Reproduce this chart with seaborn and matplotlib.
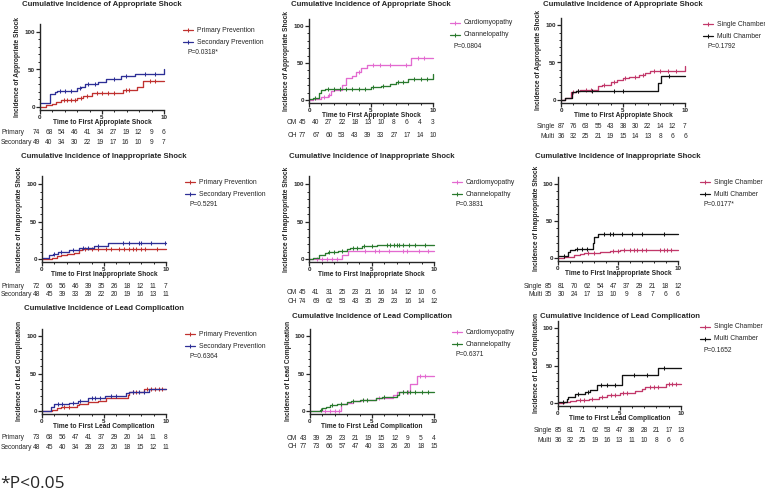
import numpy as np
import pandas as pd
import matplotlib
matplotlib.use('Agg')
import matplotlib.pyplot as plt
import seaborn as sns
from matplotlib.lines import Line2D

# ---------------- data ----------------
# appropriate shock
app_pp_t = [0, 0.5, 1.0, 1.3, 1.7, 3.0, 3.5, 4.2, 6.7, 7.8, 8.3, 10]
app_pp_y = [0, 2, 4, 6, 9, 12, 14, 18, 22, 27, 35, 35]
app_pp_cens = [1.9, 2.2, 2.5, 2.8, 3.3, 3.8, 4.6, 5.0, 5.5, 6.0, 6.9, 7.2, 8.9, 9.3]
app_sp_t = [0, 0.8, 1.2, 1.4, 3.0, 3.3, 3.6, 4.7, 5.3, 6.5, 7.7, 10]
app_sp_y = [5, 17, 20, 21, 25, 27, 30, 33, 37, 41, 44, 50]
app_sp_cens = [1.6, 2.0, 2.5, 3.2, 3.9, 4.4, 6.0, 6.9, 8.5, 9.3]

app_cm_t = [0, 0.3, 1.0, 1.5, 1.8, 2.0, 2.7, 3.0, 3.5, 3.8, 4.2, 4.7, 8.2, 10]
app_cm_y = [0, 2, 4, 7, 12, 14, 20, 30, 33, 38, 43, 47, 57, 57]
app_cm_cens = [1.2, 1.6, 4.0, 5.2, 5.7, 6.5, 7.8, 8.8, 9.3]
app_ch_t = [0, 0.3, 0.8, 1.0, 1.3, 5.0, 5.8, 6.5, 7.0, 8.0, 10]
app_ch_y = [2, 3, 10, 14, 15, 17, 19, 22, 25, 29, 35]
app_ch_cens = [0.5, 1.5, 2.0, 2.5, 3.0, 3.5, 4.0, 4.5, 5.2, 6.0, 7.2, 7.6, 8.5, 9.0, 9.5]

app_single_t = [0, 0.3, 0.8, 1.2, 1.5, 3.0, 3.3, 4.0, 4.5, 5.0, 5.5, 6.3, 6.8, 7.2, 10]
app_single_y = [0, 2, 10, 12, 13, 18, 20, 24, 27, 29, 30, 33, 36, 39, 45]
app_single_cens = [1.0, 1.4, 2.0, 2.4, 3.5, 4.3, 5.2, 6.0, 6.6, 7.5, 8.0, 8.6, 9.3]
app_multi_t = [0, 0.3, 0.9, 1.2, 7.8, 8.1, 10]
app_multi_y = [0, 3, 11, 12, 22, 32, 32]
app_multi_cens = [1.4, 2.5, 4.3, 5.0, 8.7]

# inappropriate shock
inapp_pp_t = [0, 0.8, 1.2, 1.5, 2.0, 2.6, 3.0, 3.2, 10]
inapp_pp_y = [0, 2, 4, 6, 7, 8, 12, 13, 13]
inapp_pp_cens = [3.5, 4.0, 4.5, 5.2, 5.6, 6.2, 6.6, 7.0, 7.3, 7.6, 8.0, 8.3, 9.3]
inapp_sp_t = [0, 0.6, 0.9, 1.3, 2.2, 3.0, 4.2, 5.3, 10]
inapp_sp_y = [2, 5, 7, 9, 12, 15, 17, 21, 21]
inapp_sp_cens = [1.0, 1.5, 2.5, 3.3, 3.7, 4.5, 6.5, 7.0, 7.8, 8.0, 8.8, 9.9]

inapp_cm_t = [0, 2.6, 3.1, 10]
inapp_cm_y = [0, 5, 11, 11]
inapp_cm_cens = [0.6, 1.0, 1.4, 1.8, 2.2, 4.5, 5.3, 5.6, 6.4, 7.5, 7.8, 8.8, 9.5]
inapp_ch_t = [0, 0.3, 0.8, 1.3, 1.5, 2.3, 3.0, 3.3, 4.2, 5.4, 10]
inapp_ch_y = [0, 2, 5, 8, 10, 11, 13, 15, 17, 19, 19]
inapp_ch_cens = [1.6, 2.0, 2.6, 3.5, 3.8, 4.4, 5.0, 6.2, 6.5, 6.8, 7.0, 7.2, 7.5, 8.0, 8.5, 9.3]

inapp_single_t = [0, 0.5, 1.0, 1.3, 1.8, 2.2, 3.5, 4.3, 5.2, 10]
inapp_single_y = [0, 1, 2, 4, 6, 7, 8, 9, 11, 11]
inapp_single_cens = [2.5, 3.0, 4.6, 5.0, 5.5, 6.0, 6.3, 6.6, 7.0, 7.3, 8.5, 8.8, 9.1, 9.4]
inapp_multi_t = [0, 0.8, 1.0, 1.4, 2.9, 3.0, 3.3, 10]
inapp_multi_y = [3, 8, 11, 12, 20, 28, 32, 32]
inapp_multi_cens = [0.5, 1.6, 2.0, 2.4, 3.8, 4.3, 4.6, 5.3, 6.2, 7.0, 8.8]

# lead complication
lead_pp_t = [0, 0.8, 1.2, 1.5, 2.8, 3.0, 3.7, 4.5, 5.2, 5.4, 6.9, 7.0, 8.2, 10]
lead_pp_y = [0, 2, 4, 6, 8, 10, 12, 14, 17, 18, 21, 25, 30, 30]
lead_pp_cens = [1.8, 2.2, 7.3, 7.6, 8.5, 8.8, 9.1, 9.4, 9.7]
lead_sp_t = [0, 0.7, 1.0, 2.2, 2.9, 3.3, 3.7, 5.1, 6.8, 7.0, 8.6, 10]
lead_sp_y = [0, 5, 9, 11, 13, 14, 17, 20, 24, 25, 30, 30]
lead_sp_cens = [1.3, 1.6, 2.5, 3.1, 4.0, 4.3, 4.7, 5.6, 6.0, 7.3, 7.8, 8.2]

lead_cm_t = [0, 2.5, 3.0, 3.5, 4.1, 5.3, 6.7, 7.0, 8.1, 8.6, 10]
lead_cm_y = [0, 9, 11, 13, 15, 18, 21, 25, 36, 47, 47]
lead_cm_cens = [1.2, 1.6, 2.0, 2.3, 5.6, 7.5, 7.9, 8.9, 9.3]
lead_ch_t = [0, 0.8, 1.0, 1.3, 1.6, 2.2, 3.0, 3.3, 4.0, 5.3, 5.8, 7.0, 7.2, 10]
lead_ch_y = [0, 2, 4, 6, 8, 10, 12, 13, 15, 18, 19, 22, 25, 25]
lead_ch_cens = [0.9, 1.8, 2.5, 3.5, 4.3, 4.6, 6.0, 7.5, 7.8, 8.1, 8.5, 9.0, 9.5]

lead_single_t = [0, 0.5, 1.0, 1.5, 2.5, 3.3, 4.0, 5.0, 6.3, 6.8, 7.1, 8.8, 10]
lead_single_y = [0, 1, 3, 4, 6, 8, 11, 13, 16, 19, 21, 25, 25]
lead_single_cens = [1.8, 2.1, 2.8, 3.6, 4.3, 4.6, 5.3, 5.6, 7.5, 7.8, 8.1, 9.0, 9.3, 9.6]
lead_multi_t = [0, 0.7, 0.8, 1.4, 2.2, 2.6, 3.2, 5.2, 8.1, 10]
lead_multi_y = [2, 5, 8, 12, 15, 17, 24, 37, 47, 47]
lead_multi_cens = [0.4, 1.6, 2.4, 3.5, 4.0, 4.6, 6.2, 7.2, 8.6]

# numbers at risk (years 0..10)
app_pp_risk = [74, 68, 54, 46, 41, 34, 27, 19, 12, 9, 6]
app_sp_risk = [49, 40, 34, 30, 22, 19, 17, 16, 10, 9, 7]
app_cm_risk = [45, 40, 27, 22, 18, 13, 10, 8, 6, 4, 3]
app_ch_risk = [77, 67, 60, 53, 43, 39, 33, 27, 17, 14, 10]
app_single_risk = [87, 76, 63, 55, 43, 38, 30, 22, 14, 12, 7]
app_multi_risk = [36, 32, 25, 21, 19, 15, 14, 13, 8, 6, 6]
inapp_pp_risk = [72, 66, 56, 46, 39, 35, 26, 18, 12, 11, 7]
inapp_sp_risk = [48, 45, 39, 33, 28, 22, 20, 19, 16, 13, 11]
inapp_cm_risk = [45, 41, 31, 25, 23, 21, 16, 14, 12, 10, 6]
inapp_ch_risk = [74, 69, 62, 53, 43, 35, 29, 23, 16, 14, 12]
inapp_single_risk = [85, 81, 70, 62, 54, 47, 37, 29, 21, 18, 12]
inapp_multi_risk = [35, 30, 24, 17, 13, 10, 9, 8, 7, 6, 6]
lead_pp_risk = [73, 68, 56, 47, 41, 37, 29, 20, 14, 11, 8]
lead_sp_risk = [48, 45, 40, 34, 28, 23, 20, 18, 15, 12, 11]
lead_cm_risk = [43, 39, 29, 23, 21, 19, 15, 12, 9, 5, 4]
lead_ch_risk = [77, 73, 66, 57, 47, 40, 33, 26, 20, 18, 15]
lead_single_risk = [85, 81, 71, 62, 53, 47, 38, 28, 21, 17, 13]
lead_multi_risk = [36, 32, 25, 19, 16, 13, 11, 10, 8, 6, 6]

titles = ['Cumulative Incidence of Appropriate Shock',
          'Cumulative Incidence of Inappropriate Shock',
          'Cumulative Incidence of Lead Complication']
ylabels = ['Incidence of Appropriate Shock', 'Incidence of Inappropriate Shock',
           'Incidence of Lead Complication']
xlabels = ['Time to First Appropiate Shock', 'Time to First Inappropriate Shock',
           'Time to First Lead Complication']
pvals = [['P=0.0318*', 'P=0.0804', 'P=0.1792'],
         ['P=0.5291', 'P=0.3831', 'P=0.0177*'],
         ['P=0.6364', 'P=0.6371', 'P=0.1652']]
legend_names = [['Primary Prevention', 'Secondary Prevention'],
                ['Cardiomyopathy', 'Channelopathy'],
                ['Single Chamber', 'Multi Chamber']]
table_names = [['Primary', 'Secondary'], ['CM', 'CH'], ['Single', 'Multi']]
colors = [['#c0312f', '#2d2f96'], ['#e36ad0', '#2a7a2e'], ['#c2386a', '#111111']]

curves = [
    [[(app_pp_t, app_pp_y, app_pp_cens, app_pp_risk), (app_sp_t, app_sp_y, app_sp_cens, app_sp_risk)],
     [(app_cm_t, app_cm_y, app_cm_cens, app_cm_risk), (app_ch_t, app_ch_y, app_ch_cens, app_ch_risk)],
     [(app_single_t, app_single_y, app_single_cens, app_single_risk),
      (app_multi_t, app_multi_y, app_multi_cens, app_multi_risk)]],
    [[(inapp_pp_t, inapp_pp_y, inapp_pp_cens, inapp_pp_risk), (inapp_sp_t, inapp_sp_y, inapp_sp_cens, inapp_sp_risk)],
     [(inapp_cm_t, inapp_cm_y, inapp_cm_cens, inapp_cm_risk), (inapp_ch_t, inapp_ch_y, inapp_ch_cens, inapp_ch_risk)],
     [(inapp_single_t, inapp_single_y, inapp_single_cens, inapp_single_risk),
      (inapp_multi_t, inapp_multi_y, inapp_multi_cens, inapp_multi_risk)]],
    [[(lead_pp_t, lead_pp_y, lead_pp_cens, lead_pp_risk), (lead_sp_t, lead_sp_y, lead_sp_cens, lead_sp_risk)],
     [(lead_cm_t, lead_cm_y, lead_cm_cens, lead_cm_risk), (lead_ch_t, lead_ch_y, lead_ch_cens, lead_ch_risk)],
     [(lead_single_t, lead_single_y, lead_single_cens, lead_single_risk),
      (lead_multi_t, lead_multi_y, lead_multi_cens, lead_multi_risk)]],
]

# ---------------- layout (pixels) ----------------
W, H = 765, 494
# x of t=0, x of t=10, y of 0%, y of 100%
axes_px = [[(40, 164, 107, 32), (309, 433, 100, 26), (561, 685, 100, 25)],
           [(42, 166, 259, 184), (309, 434, 259, 184), (558, 678, 258, 184)],
           [(42, 166, 411, 336), (310, 434, 411, 336), (558, 681, 403, 328)]]
title_y = [[5, 5, 5], [156, 156, 156], [308, 317, 317]]
table_rows_y = [[(132, 142), (123, 135), (126, 136)],
                [(286, 294), (292, 301), (287, 294)],
                [(437, 447), (438, 446), (431, 440)]]
table_start = [[-0.3, -0.5, 0.0], [-0.45, -0.5, -0.8], [-0.45, -0.55, 0.0]]
legend_xy = [[(183, 30), (450, 23), (703, 24)],
             [(185, 182), (452, 182), (700, 182)],
             [(185, 334), (452, 332), (700, 327)]]

sns.set_style('ticks')
plt.rcParams['font.family'] = ['Liberation Sans', 'DejaVu Sans']
plt.rcParams['axes.linewidth'] = 1.0

fig = plt.figure(figsize=(W / 100, H / 100), dpi=100)


def fx(px):
    return px / W


def fy(py):
    return 1 - py / H


def ftext(px, py, s, **kw):
    fig.text(fx(px), fy(py), s, va='center', **kw)


for r in range(3):
    for c in range(3):
        x0, x10, y0, y100 = axes_px[r][c]
        sx = (x10 - x0) / 10.0
        sy = (y0 - y100) / 100.0
        bottom_px = y0 + 4 * sy
        top_px = y100 - 10 * sy
        ax = fig.add_axes([fx(x0), fy(bottom_px), fx(x10) - fx(x0), (bottom_px - top_px) / H])

        for k, (t, y, cens, risk) in enumerate(curves[r][c]):
            col = colors[c][k]
            df = pd.DataFrame({'t': t, 'y': y})
            sns.lineplot(data=df, x='t', y='y', drawstyle='steps-post', estimator=None,
                         color=col, linewidth=0.95, ax=ax, clip_on=False)
            idx = np.searchsorted(t, cens, side='right') - 1
            ax.plot(cens, np.array(y)[idx], ls='none', marker='|', ms=2.6, mew=0.75,
                    color=col, clip_on=False)

            # numbers at risk
            start = table_start[r][c]
            ty = table_rows_y[r][c][k]
            for i, v in enumerate(risk):
                xd = start + i * (10 - start) / 10.0
                ftext(x0 + xd * sx, ty, str(v), ha='center', fontsize=4.8)
            if c == 0:
                ftext(1, ty, table_names[c][k], ha='left', fontsize=4.8)
            else:
                ftext(x0 + start * sx - 6, ty, table_names[c][k], ha='right', fontsize=4.8)

            # legend entry
            lx, ly = legend_xy[r][c]
            ly = ly + 12 * k
            fig.add_artist(Line2D([fx(lx), fx(lx + 10)], [fy(ly), fy(ly)], color=col, lw=0.9,
                                  transform=fig.transFigure))
            fig.add_artist(Line2D([fx(lx + 5)], [fy(ly)], color=col, marker='|', ms=2.4, mew=0.75,
                                  transform=fig.transFigure))
            ftext(lx + 14, ly, legend_names[c][k], ha='left', fontsize=4.9)

        lx, ly = legend_xy[r][c]
        ftext(lx + 4, ly + 23, pvals[r][c], ha='left', fontsize=4.8)

        ax.set_xlim(0, 10)
        ax.set_ylim(-4, 110)
        ax.set_xticks([0, 5, 10])
        ax.set_xticks(range(11), minor=True)
        ax.set_yticks([0, 50, 100])
        ax.set_yticks(range(0, 101, 10), minor=True)
        ax.tick_params(which='major', length=3, width=0.9, pad=0.6, labelsize=4.5)
        ax.tick_params(which='minor', length=1.6, width=0.7)
        for lab in ax.get_xticklabels() + ax.get_yticklabels():
            lab.set_fontweight('bold')
        ax.set_xlabel('')
        ax.set_ylabel('')
        sns.despine(ax=ax)

        ftext((x0 + x10) / 2, title_y[r][c], titles[r], ha='center', fontsize=5.6, fontweight='bold')
        ftext((x0 + x10) / 2, y0 + 15.5, xlabels[r], ha='center', fontsize=4.8, fontweight='bold')
        fig.text(fx(x0 - 22), fy((bottom_px + top_px) / 2), ylabels[r], rotation=90,
                 ha='center', va='center', fontsize=4.8, fontweight='bold')

fig.text(fx(0), fy(484), '*P<0.05', ha='left', va='center', fontsize=12.5,
         family=['Open Sans', 'DejaVu Sans'])

fig.savefig('out.png', dpi=100)
